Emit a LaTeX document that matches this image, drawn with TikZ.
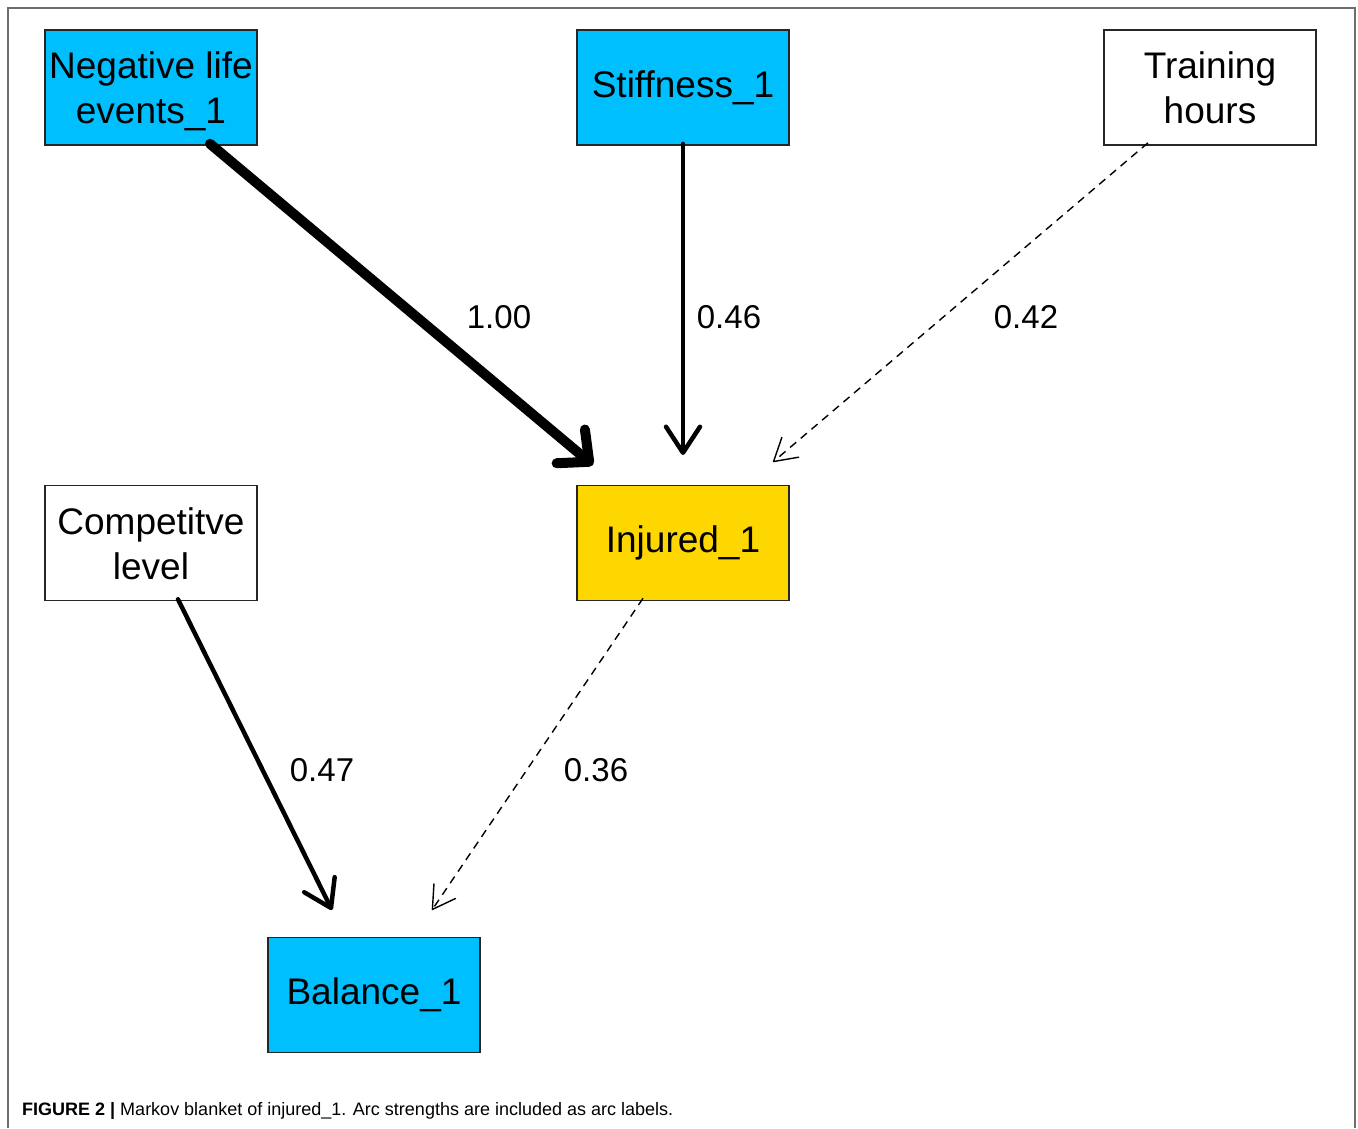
\documentclass[tikz,border=0pt]{standalone}
\usepackage{fontspec}
\setmainfont{Liberation Sans}
\usetikzlibrary{arrows.meta}
\definecolor{nodecyan}{RGB}{0,191,255}
\definecolor{nodegold}{RGB}{255,215,0}
\definecolor{framegray}{RGB}{110,110,110}
\newcommand{\twoline}[2]{\raisebox{0pt}[\height][\dimexpr\depth-9pt\relax]{\begin{tabular}{@{}c@{}}#1\\[0pt]#2\end{tabular}}}
\begin{document}
\begin{tikzpicture}[x=1pt,y=-1pt,
  varbox/.style={draw=black!85,line width=1.6pt,minimum width=212pt,minimum height=115pt,
    inner sep=0pt,align=center,font=\fontsize{37}{45}\selectfont},
  arclabel/.style={font=\fontsize{33}{40}\selectfont,inner sep=0pt},
  strongarc/.style={line width=10pt,line cap=round,
    -{Straight Barb[length=24pt,width=44pt,line cap=round,line join=round]}},
  midarc/.style={line width=4.5pt,line cap=round,
    -{Straight Barb[length=26pt,width=34pt,line cap=round,line join=round]}},
  weakarc/.style={line width=1.4pt,dash pattern=on 8pt off 6pt,
    -{Straight Barb[length=22pt,width=26pt,line cap=round,line join=round]}}]
\useasboundingbox (0,0) rectangle (1358,1128);
\fill[white] (0,0) rectangle (1358,1128);
\draw[framegray,line width=1.6pt] (8,1128) -- (8,8) -- (1355,8) -- (1355,1128);

\node[varbox,fill=nodecyan] (nle) at (151,87.5) {\twoline{Negative life}{events\_1}};
\node[varbox,fill=nodecyan] (stiff) at (683,87.5) {Stiffness\_1};
\node[varbox,fill=white] (train) at (1210,87.5) {\twoline{Training}{hours}};
\node[varbox,fill=white] (comp) at (151,543) {\twoline{Competitve}{level}};
\node[varbox,fill=nodegold] (inj) at (683,543) {Injured\_1};
\node[varbox,fill=nodecyan] (bal) at (374,995) {Balance\_1};

\coordinate (e1) at (593,465);
\coordinate (e2) at (683,455);
\coordinate (e3) at (773,462);
\coordinate (e4) at (332,910);
\coordinate (e5) at (432,910);

\draw[strongarc] ([xshift=59pt,yshift=2pt]nle.south) -- (e1);
\draw[midarc] ([yshift=2pt]stiff.south) -- (e2);
\draw[weakarc] ([xshift=-62pt,yshift=3pt]train.south) -- (e3);
\draw[midarc] ([xshift=27pt,yshift=2pt]comp.south) -- (e4);
\draw[weakarc] ([xshift=-40pt,yshift=3pt]inj.south) -- (e5);

\node[arclabel] (l1) at (499,317) {1.00};
\node[arclabel] (l2) at (729,317) {0.46};
\node[arclabel] (l3) at (1026,317) {0.42};
\node[arclabel] (l4) at (322,770) {0.47};
\node[arclabel] (l5) at (596,770) {0.36};

\node[anchor=base west,inner sep=0pt] (cap) at (22,1115)
  {\fontsize{18}{22}\selectfont\textbf{FIGURE 2 |} Markov blanket of injured\_1. Arc strengths are included as arc labels.};
\end{tikzpicture}
\end{document}
